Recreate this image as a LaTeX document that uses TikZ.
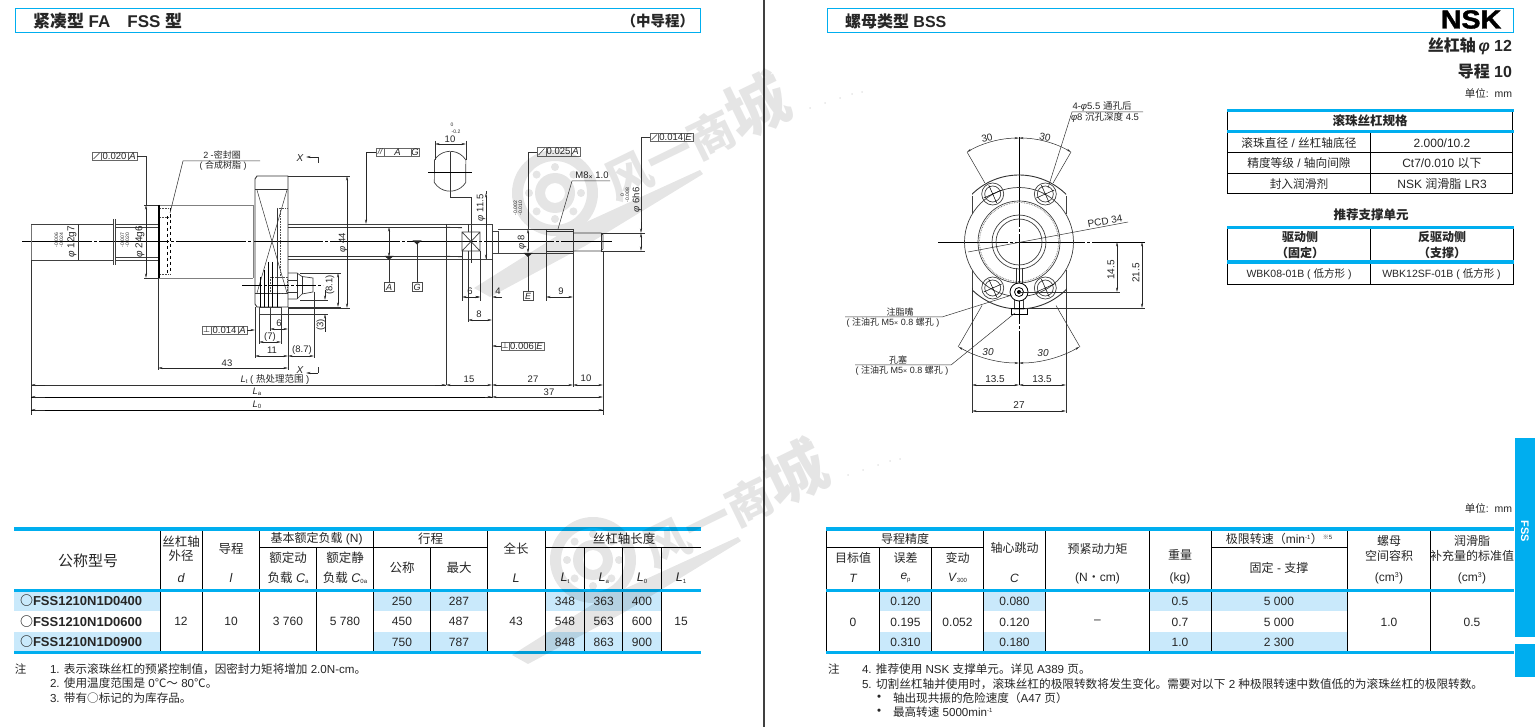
\documentclass[tikz,border=0pt]{standalone}
\usepackage{fontspec}
\usetikzlibrary{arrows.meta}
\setmainfont{Liberation Sans}
\newfontfamily\cjk{Noto Sans CJK SC}
\newfontfamily\nskfont[FakeBold=1.5]{Liberation Sans Bold}
\XeTeXinterchartokenstate=1
\newXeTeXintercharclass\CJKcl
\newcount\cc
\newcommand\markrange[2]{\cc=#1\relax\loop\XeTeXcharclass\cc=\CJKcl\ifnum\cc<#2\advance\cc by 1\repeat}
\markrange{"4E00}{"9FFF}
\markrange{"3000}{"30FF}
\markrange{"FF00}{"FFEF}
\XeTeXcharclass"2103=\CJKcl
\XeTeXcharclass"25CB=\CJKcl
\XeTeXcharclass"203B=\CJKcl
\XeTeXinterchartoks 0 \CJKcl = {\begingroup\cjk}
\XeTeXinterchartoks 4095 \CJKcl = {\begingroup\cjk}
\XeTeXinterchartoks \CJKcl 0 = {\endgroup}
\XeTeXinterchartoks \CJKcl 4095 = {\endgroup}
\newcommand\fs[1]{\fontsize{#1}{#1}\selectfont}
\newcount\tn
\newcommand\T[4][]{\global\advance\tn by 1 \node[txt,#1] (t\the\tn) at ({#2},{#3}) {#4};}
\newcommand\Ls[2]{\textit{#1}\raisebox{-1.5pt}{\fs{6}#2}}
\definecolor{cy}{HTML}{00AEEF}
\definecolor{shade}{HTML}{C9E9FB}
\definecolor{ink}{HTML}{262626}
\tikzset{
 txt/.style={inner sep=0pt,outer sep=0pt,text=ink,font=\fs{12}},
 dl/.style={txt,font=\fs{9}},
 part/.style={line width=.7pt,draw=black!75},
 thin/.style={line width=.5pt,draw=black!80},
 cent/.style={line width=.5pt,draw=black,dash pattern=on 70pt off 2pt on 3pt off 2pt},
 hid/.style={line width=.6pt,draw=black!70,densely dotted},
 dimln/.style={line width=.5pt,draw=black!85,{Stealth[length=4.5pt,width=2pt]}-{Stealth[length=4.5pt,width=2pt]}},
 ar/.style={line width=.5pt,draw=black!85,-{Stealth[length=4.5pt,width=2pt]}},
 frame/.style={line width=.9pt,draw=black!60},
 tl/.style={line width=.8pt,draw=black},
 bar/.style={fill=cy,draw=none},
 sh/.style={fill=shade,draw=none},
}
% tolerance frame: x1 x2 y1 y2 div1 div2 symbolcode value datum
\newcommand\Tol[9]{%
 \draw[frame] (#1,#3) rectangle (#2,#4);
 \draw[frame] (#5,#3)--(#5,#4) (#6,#3)--(#6,#4);
 #7
 \T[font=\fs{9.5}]{(#5+#6)/2}{(#3+#4)/2}{#8}
 \T[font=\fs{9.5}\itshape]{(#6+#2)/2}{(#3+#4)/2}{#9}
}
\newcommand\Datum[3]{\draw[line width=.8pt,black!70] (#1-5,#2-4.5) rectangle (#1+5,#2+4.5);\T[font=\fs{9}\itshape]{#1}{#2}{#3}}
\newcommand\Tick[2]{\fill[black!85] (#1-4.5,#2-1.5)--(#1+4.5,#2-1.5)--(#1,#2+2.5)--cycle;}
\begin{document}
\begin{tikzpicture}[x=1pt,y=-1pt]
\useasboundingbox (0,0) rectangle (1535,727);
\fill[white] (0,0) rectangle (1535,727);
% ---------- page frame items
\draw[line width=1.6pt,black!75] (764,0)--(764,727);
\draw[cy,line width=1pt] (15.5,8.5) rectangle (700.5,32.5);
\draw[cy,line width=1pt] (827.5,8.5) rectangle (1513.5,32.5);
\T[anchor=west,font=\fs{17}\bfseries]{33}{21}{紧凑型 FA　FSS 型}
\T[anchor=east,font=\fs{14.5}\bfseries]{694}{21}{（中导程）}
\T[anchor=west,font=\fs{16}\bfseries]{845}{21}{螺母类型 BSS}
\T[text=black]{1471}{19.5}{\scalebox{1.1}[1]{\fs{26}\nskfont NSK}}
\T[anchor=east,font=\fs{16}\bfseries]{1512}{46}{丝杠轴\,\textit{φ} 12}
\T[anchor=east,font=\fs{16}\bfseries]{1512}{71}{导程 10}
\T[anchor=east,font=\fs{10.5}]{1512}{93}{单位:\ \ mm}
\T[anchor=east,font=\fs{10.5}]{1512}{508}{单位:\ \ mm}
\fill[cy] (1515,438) rectangle (1535,637);
\fill[cy] (1515,644) rectangle (1535,677);
\T[rotate=-90,text=white,font=\fs{11}\bfseries]{1525}{531}{FSS}
% ---------- left drawing: main view
\draw[cent] (22,241)--(612,241);
% left shaft end
\draw[line width=1pt,black!55] (31,224)--(31,260);
\draw[part] (31,224)--(114,224) (31,260)--(114,260);
\draw[thin] (78,224)--(78,260);
\draw[part] (113,219)--(113,265) (115.5,219)--(115.5,265);
\draw[part] (115,224)--(158,224) (115,227)--(158,227) (115,257)--(158,257) (115,260)--(158,260);
% cylinder
\draw[line width=.9pt,black!50] (158,205)--(253,205) (158,278)--(253,278);
\draw[line width=.9pt,black!50] (253,205)--(253,278);
\draw[line width=1.6pt,black] (159,205)--(159,278);
\draw[hid] (160,208)--(170,208) (160,274)--(170,274) (160,217)--(170,217);
\draw[line width=.6pt,black,dashed] (167,216)--(167,274) (170,208)--(170,274);
% flange
\draw[line width=.9pt,black!80] (288,176)--(257,176)--(255,179)--(255,304)--(257,307)--(288,307)--(288,176);
\draw[thin] (255,189.5)--(288,189.5) (255,293)--(288,293);
\draw[thin] (257,190)--(287,293) (287,190)--(257,293);
\draw[thin] (277,208)--(277,302);
\draw[hid] (280,208)--(280,277) (277,208)--(288,208);
\draw[hid] (270,277) rectangle (287,293);
\draw[line width=.7pt,black] (264,270)--(264,307) (268,262)--(268,307) (272,262)--(272,307);
\draw[line width=.9pt,black] (260,277)--(260,307) (277,293)--(277,307);
\draw[part] (259,307) rectangle (281,314) (270,307)--(270,314);
% nipple
\draw[part] (288,273)--(297,273)--(302,276.5)--(313,278)--(313,292)--(302,294)--(297,299)--(288,299);
\draw[thin] (297,273)--(297,299) (302,276.5)--(302,294) (288,280)--(297,280) (288,292)--(297,292);
\draw[cent,dash pattern=on 20pt off 2pt on 3pt off 2pt] (242,285)--(323,285);
% main shaft
\draw[part] (288,224)--(468,224) (288,259)--(462,259);
\draw[thin] (288,227)--(462,227) (288,256)--(462,256);
\draw[part] (468,224)--(492,224)--(492,259)--(462,259);
\draw[thin] (446,224)--(446,385);
\draw[thin] (446,227)--(462,228) (446,256)--(462,257);
\draw[thin] (468,224)--(468,232);
\draw[thin] (468,251)--(468,322);
\draw[part] (462,232) rectangle (480,251) (462,232)--(480,251) (480,232)--(462,251);
\draw[thin] (462,251)--(462,301) (480,251)--(480,301);
\draw[thin] (486,224)--(486,259);
% section leader and view
\draw[thin] (450,152)--(450,197)--(471.5,197)--(471.5,263);
\draw[part] (434.5,160) arc[start angle=148,end angle=32,radius=18.5pt] -- (465.7,182.5) arc[start angle=-32,end angle=-148,radius=18.5pt] -- cycle;
\draw[line width=.5pt,black] (428,172)--(472,172);
\draw[thin] (435,141)--(435,160) (466,141)--(466,160);
\draw[dimln] (435,144)--(466,144);
\T[font=\fs{9.5}]{450}{139}{10}
\T[font=\fs{5}]{452}{125}{0}
\T[font=\fs{5}]{456}{132}{-0.2}
% journal
\draw[part] (492,231)--(498,231)--(498,253)--(492,253);
\draw[part] (498,229)--(573,229) (498,253)--(573,253) (573,229)--(573,253);
\draw[part] (546,229)--(546,253);
\draw[thin] (546,231)--(573,231) (546,251)--(573,251);
\draw[thin] (546,253)--(546,301);
\draw[thin] (573,253)--(573,387);
\draw[part] (573,233)--(601,233)--(603,235)--(603,249)--(601,251)--(573,251);
\draw[thin] (601,233)--(601,251);
\draw[thin] (603,251)--(603,415);
\draw[thin] (492,259)--(492,398);
\draw[thin] (31,260)--(31,415);
% phi dimensions and leaders
\draw[thin] (601,233)--(645,233) (601,251)--(645,251);
\draw[thin] (650,137)--(641,137)--(641,224);
\draw[dimln] (641,233)--(641,251);
\draw[ar] (641,222)--(641,233);
\T[rotate=90,dl,font=\fs{9.5}]{637}{200}{\textit{φ} 6h6}
\T[rotate=90,align=center,font=\fs{5}]{625}{195}{0\\-0.008}
\Tol{650}{693}{133}{141.5}{658.5}{684}{\draw[thin] (651.5,140)--(657,134.5);}{0.014}{E}
\draw[thin] (537,152)--(528,152)--(528,229);
\draw[dimln] (528,229)--(528,253);
\Tick{528}{254.5}
\draw[thin] (528,256)--(528,291);
\Datum{528}{296}{E}
\T[rotate=90,font=\fs{9.5}]{522}{242}{\textit{φ} 8}
\T[rotate=90,align=center,font=\fs{5}]{518}{208}{-0.002\\-0.010}
\Tol{537}{580}{147}{156}{546}{571}{\draw[thin] (538.5,155)--(544.5,148.5);}{0.025}{A}
\draw[thin] (610,181)--(572,181)--(558,229);
\T[font=\fs{9.5}]{592}{175.5}{M8\raisebox{-1pt}{\fs{7}×} 1.0}
\draw[dimln] (486,193)--(486,259);
\draw[thin] (486,191)--(486,194);
\T[rotate=90,font=\fs{9.5}]{481}{208}{\textit{φ} 11.5}
% phi44
\draw[thin] (288,176)--(350,176) (288,308)--(350,308);
\draw[dimln] (347,176)--(347,308);
\T[rotate=90,font=\fs{9.5}]{343}{243}{\textit{φ} 44}
% datums
\draw[dimln] (389,227)--(389,257);
\Tick{389}{257.5}
\draw[thin] (389,259)--(389,282);
\Datum{389}{287}{A}
\Tick{417}{242}
\draw[thin] (417,244)--(417,282);
\Datum{417}{287}{G}
\Tol{376}{419}{148}{156.5}{384}{411}{\T[font=\fs{8}\itshape]{380}{152}{//}}{\textit{A}}{G}
\draw[ar] (376,152)--(366,152)--(366,224);
% lower right dims
\draw[dimln] (462,297)--(480,297);
\T[dl,font=\fs{9.5}]{470}{291}{6}
\draw[ar] (502,297)--(492,297);
\draw[ar] (470,297)--(480,297);
\T[font=\fs{9.5}]{498}{291}{4}
\draw[dimln] (468,320)--(492,320);
\T[font=\fs{9.5}]{479}{314}{8}
\draw[dimln] (546,297)--(573,297);
\T[font=\fs{9.5}]{561}{291}{9}
\Tol{501}{544}{342}{350}{509}{535}{\T[font=\fs{8}]{505}{346}{\fontspec{DejaVu Sans}⊥}}{0.006}{E}
\draw[ar] (501,346)--(492,346);
% bottom dims
\draw[thin] (31,385)--(446,385);
\draw[ar] (45,385)--(31,385);
\draw[ar] (435,385)--(446,385);
\draw[dimln] (446,385)--(492,385);
\draw[dimln] (492,385)--(573,385);
\draw[dimln] (573,385)--(603,385);
\draw[line width=.6pt,black] (31,397)--(492,397) (31,410)--(603,410);
\draw[ar] (45,397)--(31,397);
\draw[ar] (45,410)--(31,410);
\draw[ar] (485,397)--(492,397);
\draw[ar] (590,410)--(603,410);
\draw[dimln] (492,397)--(603,397);
\T[font=\fs{9.5}]{469}{379}{15}
\T[font=\fs{9.5}]{533}{379}{27}
\T[font=\fs{9.5}]{586}{378}{10}
\T[font=\fs{9.5}]{549}{392}{37}
\T[font=\fs{9.5}]{275}{379}{\Ls{L}{t} ( 热处理范围 )}
\T[font=\fs{9.5}]{257}{392}{\Ls{L}{a}}
\T[font=\fs{9.5}]{257}{405}{\Ls{L}{0}}
\draw[thin] (158,278)--(158,370) (288,307)--(288,370);
\draw[dimln] (158,368)--(288,368);
\T[font=\fs{9.5}]{227}{363}{43}
\draw[thin] (255,307)--(255,358) (314,292)--(314,358);
\draw[dimln] (255,356)--(288,356);
\draw[dimln] (288,356)--(314,356);
\T[font=\fs{9.5}]{272}{350}{11}
\T[font=\fs{9.5}]{302}{350}{(8.7)}
\draw[thin] (259,314)--(259,344) (281,314)--(281,344);
\draw[dimln] (259,342)--(281,342);
\T[font=\fs{9.5}]{270}{337}{(7)}
\draw[thin] (270,314)--(270,331);
\draw[dimln] (270,329)--(288,329);
\T[font=\fs{9.5}]{279}{323}{6}
\Tol{202}{247}{326}{334}{211}{238}{\T[font=\fs{8}]{206.5}{330}{\fontspec{DejaVu Sans}⊥}}{0.014}{A}
\draw[ar] (247,330)--(255,330);
\draw[thin] (300,273)--(341,273) (288,307)--(341,307) (300,300)--(328,300) (281,314)--(328,314);
\draw[dimln] (338,273)--(338,307);
\T[rotate=90,font=\fs{9.5}]{330}{285}{(8.1)}
\draw[ar] (325,290)--(325,300);
\draw[ar] (325,332)--(325,314);
\T[rotate=90,font=\fs{9.5}]{321}{325}{(3)}
% X marks
\T[font=\fs{10}\itshape]{300}{158}{X}
\draw[ar] (318,157)--(306,157);\draw[thin] (318,157)--(318,163);
\T[font=\fs{10}\itshape]{300}{370}{X}
\draw[ar] (318,373)--(306,373);\draw[thin] (318,373)--(318,367);
% left tolerance + seal
\Tol{92}{137}{152}{160}{101}{128}{\draw[thin] (93.5,159)--(99.5,153);}{0.020}{A}
\draw[thin] (137,156)--(146,156)--(146,205);
\draw[thin] (144,205)--(158,205) (144,278)--(158,278);
\draw[dimln] (146,205)--(146,278);
\T[rotate=90,font=\fs{10}]{140}{242}{\textit{φ} 24g6}
\T[rotate=90,align=center,font=\fs{5}]{125}{240}{-0.007\\-0.020}
\T[rotate=90,font=\fs{10}]{72}{242}{\textit{φ} 12g7}
\T[rotate=90,align=center,font=\fs{5}]{59}{240}{-0.006\\-0.024}
\T[font=\fs{9}]{222}{155.5}{2 -密封圈}
\T[font=\fs{9}]{223}{166}{( 合成树脂 )}
\draw[thin] (260,161)--(183,161)--(170,213);
% ---------- right drawing: end view
\begin{scope}[shift={(1019,242)}]
 \draw[cent,dash pattern=on 70pt off 2pt on 3pt off 2pt] (-81,0)--(126,0);
 \draw[cent,dash pattern=on 90pt off 2pt on 3pt off 2pt] (0,-105)--(0,143);
 \begin{scope}
  \clip (-47,-80) rectangle (47,80);
  \draw[line width=.9pt,black!80] (0,0) circle[radius=67pt];
 \end{scope}
 \draw[part] (-47,-46)--(-47,-27.6) (47,-46)--(47,-27.6) (-47,27.6)--(-47,46) (47,27.6)--(47,46);
 \draw[part] (0,0) circle[radius=54.5pt];
 \draw[part] (0,0) circle[radius=41pt];
 \draw[line width=.7pt,black!60,densely dotted] (0,0) circle[radius=39.5pt];
 \draw[part] (0,0) circle[radius=27pt];
 \draw[part] (0,0) circle[radius=23pt];
 \foreach \p/\q in {-26.3/-48,26.3/-48,-26.3/46,26.3/46}{
  \draw[part] (\p,\q) circle[radius=11pt];
  \draw[part] (\p,\q) circle[radius=8pt];
  \draw[line width=.5pt,black] (\p-9,\q+4)--(\p+9,\q-4) (\p-4,\q-9)--(\p+4,\q+9);
 }
 \draw[thin] (-3,26)--(-3,42) (3,26)--(3,42);
 \draw[line width=.8pt,black,fill=white] (0,50) circle[radius=9pt];
 \draw[line width=.8pt,black] (0,50) circle[radius=4.5pt];
 \fill[black] (0,50) circle[radius=2pt];
 \draw[part] (-4.5,58)--(-4.5,66) (4.5,58)--(4.5,66);
 \draw[line width=.9pt,black] (-8,66) rectangle (8,72) (0,66)--(0,72);
 % dims
 \draw[thin] (-47,46)--(-47,171) (47,46)--(47,171);
 \draw[thin] (-34.2,-59.2)--(-52,-90) (34.2,-59.2)--(52,-90);
 \draw[thin] (-37,63.5)--(-61,105) (37,63.5)--(61,105);
 \draw[dimln] (-52,-90) arc[start angle=120,end angle=90,radius=104pt];
 \draw[dimln] (52,-90) arc[start angle=60,end angle=90,radius=104pt];
 \draw[dimln] (-60.5,104.8) arc[start angle=240,end angle=270,radius=121pt];
 \draw[dimln] (60.5,104.8) arc[start angle=300,end angle=270,radius=121pt];
 \T[rotate=12,font=\fs{10}]{-32}{-104}{30}
 \T[rotate=-12,font=\fs{10}]{26}{-105}{30}
 \T[font=\fs{10}\itshape]{-31}{110}{30}
 \T[font=\fs{10}\itshape]{24}{111}{30}
 \draw[dimln] (-47,143)--(0,143);
 \draw[dimln] (0,143)--(47,143);
 \draw[dimln] (-47,169)--(47,169);
 \T[font=\fs{10}]{-24}{137}{13.5}
 \T[font=\fs{10}]{23}{137}{13.5}
 \T[font=\fs{10}]{0}{163}{27}
 \draw[thin] (0,50)--(101,50) (6,66)--(126,66);
 \draw[dimln] (98,0)--(98,50);
 \draw[dimln] (123,0)--(123,66);
 \T[rotate=90,font=\fs{10}]{92}{28}{14.5}
 \T[rotate=90,font=\fs{10}]{117}{31}{21.5}
 % PCD
 \draw[thin] (-51,10)--(109,-20);
 \T[rotate=10,font=\fs{10}]{86}{-21}{PCD 34}
 % labels
 \draw[thin] (124,-130)--(53,-130)--(29,-54);
 \T[font=\fs{9.5}]{83}{-135}{4-\textit{φ}5.5 通孔后}
 \T[font=\fs{9.5}]{86}{-125}{\textit{φ}8 沉孔深度 4.5}
 \draw[thin] (-174,75)--(-77,75)--(-7,53);
 \T[font=\fs{9}]{-119}{70}{注脂嘴}
 \T[font=\fs{9}]{-126}{80.5}{( 注油孔 M5\raisebox{0pt}{\fs{7}×} 0.8 螺孔 )}
 \draw[thin] (-164,123)--(-68,123)--(-4,71);
 \T[font=\fs{9}]{-121}{118.5}{孔塞}
 \T[font=\fs{9}]{-117}{129}{( 注油孔 M5\raisebox{0pt}{\fs{7}×} 0.8 螺孔 )}
\end{scope}
% ---------- spec tables
\draw[tl] (1227.5,112)--(1227.5,193.5)--(1512.5,193.5)--(1512.5,112);
\draw[tl] (1227.5,152.5)--(1512.5,152.5) (1227.5,173)--(1512.5,173);
\draw[tl] (1370.5,133)--(1370.5,193.5);
\fill[bar] (1227,109) rectangle (1514,112.5);
\fill[bar] (1227,130) rectangle (1514,133.5);
\T[font=\fs{12.5}\bfseries]{1370}{121}{滚珠丝杠规格}
\T[font=\fs{11.7}]{1299}{143}{滚珠直径 / 丝杠轴底径}
\T[font=\fs{11.7}]{1299}{163}{精度等级 / 轴向间隙}
\T[font=\fs{11.7}]{1299}{184}{封入润滑剂}
\T[font=\fs{12}]{1442}{143}{2.000/10.2}
\T[font=\fs{12}]{1442}{163}{Ct7/0.010 以下}
\T[font=\fs{12}]{1442}{184}{NSK 润滑脂 LR3}
\T[font=\fs{12.5}\bfseries]{1371}{215}{推荐支撑单元}
\draw[tl] (1227.5,229)--(1227.5,284.5)--(1513,284.5)--(1513,229);
\draw[tl] (1370.5,229)--(1370.5,284.5);
\fill[bar] (1227,226) rectangle (1514,229.5);
\fill[bar] (1227,260) rectangle (1514,264);
\T[font=\fs{12}\bfseries]{1300}{237}{驱动侧}
\T[font=\fs{12}\bfseries]{1300}{253}{（固定）}
\T[font=\fs{12}\bfseries]{1442}{237}{反驱动侧}
\T[font=\fs{12}\bfseries]{1442}{253}{（支撑）}
\T[font=\fs{10.5}]{1299}{274}{WBK08-01B ( 低方形 )}
\T[font=\fs{10.5}]{1441.5}{274}{WBK12SF-01B ( 低方形 )}
% ---------- bottom left table
\fill[sh] (14,592) rectangle (160.5,611);
\fill[sh] (14,632) rectangle (160.5,651.5);
\foreach \a/\b in {373.6/487.8,545.3/661.7}{
 \fill[sh] (\a,592) rectangle (\b,611);
 \fill[sh] (\a,632) rectangle (\b,651.5);
}
\foreach \x in {160.5,202.5,259.5,373.6,487.8,545.3}{\draw[tl] (\x,531)--(\x,652);}
\foreach \x in {316.5,430.7,584.7,622.7,661.7}{\draw[tl] (\x,547.3)--(\x,652);}
\draw[tl] (259.5,547.3)--(487.8,547.3) (545.3,547.3)--(701,547.3);
\fill[bar] (14,527) rectangle (701,531);
\fill[bar] (14,589) rectangle (701,592);
\fill[bar] (14,651.3) rectangle (701,654);
\T[font=\fs{15}]{88}{561}{公称型号}
\T[font=\fs{12.5}]{181}{542}{丝杠轴}
\T[font=\fs{12.5}]{181}{556}{外径}
\T[font=\fs{12.5}\itshape]{181}{578}{d}
\T[font=\fs{12.5}]{231}{549}{导程}
\T[font=\fs{12.5}\itshape]{231}{578}{l}
\T[font=\fs{12}]{316.5}{539}{基本额定负载 (N)}
\T[font=\fs{12.5}]{288}{558}{额定动}
\T[font=\fs{12.5}]{288}{578}{负载 \Ls{C}{a}}
\T[font=\fs{12.5}]{345}{558}{额定静}
\T[font=\fs{12.5}]{345}{578}{负载 \Ls{C}{0a}}
\T[font=\fs{12.5}]{430.7}{539}{行程}
\T[font=\fs{12.5}]{402}{568}{公称}
\T[font=\fs{12.5}]{459}{568}{最大}
\T[font=\fs{12.5}]{516}{549}{全长}
\T[font=\fs{12.5}\itshape]{516}{578}{L}
\T[font=\fs{12.5}]{624}{539}{丝杠轴长度}
\T[font=\fs{12.5}]{565}{578}{\Ls{L}{t}}
\T[font=\fs{12.5}]{603.7}{578}{\Ls{L}{a}}
\T[font=\fs{12.5}]{642}{578}{\Ls{L}{0}}
\T[font=\fs{12.5}]{681}{578}{\Ls{L}{1}}
\T[anchor=west,font=\fs{13}\bfseries]{20}{601}{○FSS1210N1D0400}
\T[anchor=west,font=\fs{13}\bfseries]{20}{621.5}{○FSS1210N1D0600}
\T[anchor=west,font=\fs{13}\bfseries]{20}{642}{○FSS1210N1D0900}
\T{181}{621.5}{12}
\T{231}{621.5}{10}
\T{288}{621.5}{3 760}
\T{345}{621.5}{5 780}
\T{516}{621.5}{43}
\T{681}{621.5}{15}
\foreach \y/\p/\q/\r/\s/\u in {601/250/287/348/363/400,621.5/450/487/548/563/600,642/750/787/848/863/900}{
 \T{402}{\y}{\p}\T{459}{\y}{\q}\T{565}{\y}{\r}\T{603.7}{\y}{\s}\T{642}{\y}{\u}
}
\T[anchor=west,font=\fs{11.5}]{15}{669}{注}
\T[anchor=west,font=\fs{11.6}]{50}{669}{1. 表示滚珠丝杠的预紧控制值，因密封力矩将增加 2.0N-cm。}
\T[anchor=west,font=\fs{11.6}]{50}{683}{2. 使用温度范围是 0℃～ 80℃。}
\T[anchor=west,font=\fs{11.6}]{50}{698}{3. 带有○标记的为库存品。}
% ---------- bottom right table
\foreach \a/\b in {879.3/931.7,983.2/1045.7,1149.2/1347.6}{
 \fill[sh] (\a,592) rectangle (\b,611);
 \fill[sh] (\a,632) rectangle (\b,651.5);
}
\foreach \x in {826.8,983.2,1045.7,1149.2,1211.2,1347.6,1430}{\draw[tl] (\x,531)--(\x,652);}
\foreach \x in {879.3,931.7}{\draw[tl] (\x,547.3)--(\x,652);}
\draw[tl] (826.8,547.3)--(983.2,547.3) (1211.2,547.3)--(1347.6,547.3);
\fill[bar] (826,527) rectangle (1514,531);
\fill[bar] (826,589) rectangle (1514,592);
\fill[bar] (826,651.3) rectangle (1514,654);
\T{905}{539}{导程精度}
\T{853}{558}{目标值}
\T[font=\fs{12}\itshape]{853}{578}{T}
\T{905.5}{558}{误差}
\T{905.5}{578}{\Ls{e}{p}}
\T{957.5}{558}{变动}
\T{957.5}{578}{\Ls{V}{300}}
\T{1014.5}{548}{轴心跳动}
\T[font=\fs{12}\itshape]{1014.5}{578}{C}
\T{1097.5}{549}{预紧动力矩}
\T{1097.5}{578}{(N・cm)}
\T{1180}{555}{重量}
\T{1180}{578}{(kg)}
\T{1279}{539}{极限转速（min\textsuperscript{\fs{6}-1}）\raisebox{4pt}{\fs{6}※5}}
\T{1279}{568}{固定 - 支撑}
\T{1389}{541}{螺母}
\T{1389}{556}{空间容积}
\T{1389}{578}{(cm\textsuperscript{\fs{7}3})}
\T{1472}{541}{润滑脂}
\T{1472}{556}{补充量的标准值}
\T{1472}{578}{(cm\textsuperscript{\fs{7}3})}
\T{853}{622}{0}
\T{957.5}{622}{0.052}
\T{1097.5}{622}{–}
\T{1389}{622}{1.0}
\T{1472}{622}{0.5}
\foreach \y/\p/\q/\r/\s in {601/0.120/0.080/0.5/5 000,622/0.195/0.120/0.7/5 000,642/0.310/0.180/1.0/2 300}{
 \T{905.5}{\y}{\p}\T{1014.5}{\y}{\q}\T{1180}{\y}{\r}\T{1279}{\y}{\s}
}
\T[anchor=west,font=\fs{11.5}]{828}{669}{注}
\T[anchor=west,font=\fs{11.6}]{862}{669}{4. 推荐使用 NSK 支撑单元。详见 A389 页。}
\T[anchor=west,font=\fs{11.65}]{862}{684}{5. 切割丝杠轴并使用时，滚珠丝杠的极限转数将发生变化。需要对以下 2 种极限转速中数值低的为滚珠丝杠的极限转数。}
\T[anchor=west,font=\fs{11.5}]{877}{698}{•}
\T[anchor=west,font=\fs{11.6}]{893}{698}{轴出现共振的危险速度（A47 页）}
\T[anchor=west,font=\fs{11.5}]{877}{712}{•}
\T[anchor=west,font=\fs{11.6}]{893}{712}{最高转速 5000min\textsuperscript{\fs{6}-1}}
% ---------- watermarks (laid over everything, as in the reference)
\foreach \dx/\dy in {0/0,38/367}{
 \begin{scope}[shift={(\dx,\dy)},transparency group,opacity=.1]
  \fill[black,even odd rule] (555,193) circle[radius=43pt] circle[radius=32pt];
  \fill[black,even odd rule] (555,193) circle[radius=20pt] circle[radius=10pt];
  \foreach \a in {0,45,...,315}{\fill[black] (555,193)++(\a:26pt) circle[radius=4pt];}
  \fill[black] (474,288)--(560,234)--(700,170)--(703,174)--(585,246)--(490,297)--cycle;
  \foreach \p/\q in {810/108,825/103,840/98,852/94,862/92}{\fill[black] (\p,\q) circle[radius=1pt];}
  \node[inner sep=0pt,text=black,rotate=26,font=\fs{46}\bfseries] (wm\dy) at (695,136) {\cjk 风一商\fs{62}城};
 \end{scope}
}
\end{tikzpicture}
\end{document}
